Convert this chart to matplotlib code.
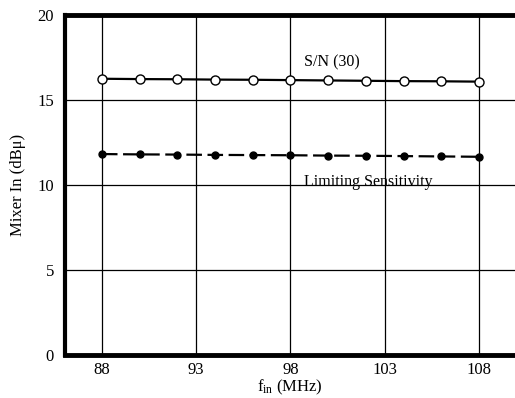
import matplotlib
matplotlib.use("Agg")
import matplotlib.pyplot as plt

freq = [88, 90, 92, 94, 96, 98, 100, 102, 104, 106, 108]
sn30 = [16.25, 16.23, 16.22, 16.2, 16.19, 16.17, 16.15, 16.13, 16.11, 16.1, 16.08]
limiting = [11.82, 11.8, 11.79, 11.77, 11.76, 11.75, 11.73, 11.72, 11.7, 11.68, 11.66]
xticks = [88, 93, 98, 103, 108]
yticks = [0, 5, 10, 15, 20]

plt.rcParams['font.family'] = ['Liberation Serif', 'DejaVu Serif']
plt.rcParams['mathtext.fontset'] = 'custom'
plt.rcParams['mathtext.rm'] = 'Liberation Serif'
plt.rcParams['mathtext.it'] = 'Liberation Serif:italic'

fig = plt.figure(figsize=(5.15, 3.98), dpi=100)
ax = fig.add_axes([65/515, 43/398, 450/515, 340/398])

ax.plot(freq, sn30, '-', color='black', lw=1.6, marker='o', ms=6.5,
        mfc='white', mec='black', mew=1.0, zorder=3)
ax.plot(freq, limiting, color='black', lw=1.6, ls=(0, (7, 2.5)), marker='o', ms=5,
        mfc='black', mec='black', zorder=3)

ax.set_xlim(86.04, 109.91)
ax.set_ylim(0, 20)
ax.set_xticks(xticks)
ax.set_yticks(yticks)
ax.grid(True, color='black', lw=0.9)
ax.tick_params(length=0, labelsize=12, pad=8)
ax.tick_params(axis='x', pad=5)

ax.spines['left'].set_linewidth(3)
for s in ['top', 'bottom']:
    ax.spines[s].set_linewidth(3.5)
ax.spines['right'].set_visible(False)

ax.text(98.7, 17.2, 'S/N (30)', fontsize=11.5, ha='left', va='center')
ax.text(98.7, 10.2, 'Limiting Sensitivity', fontsize=11.5, ha='left', va='center')

ax.set_ylabel('Mixer In (dBμ)', fontsize=12, labelpad=8)
ax.set_xlabel('f$_{\\rm in}$ (MHz)', fontsize=12, labelpad=0)

fig.savefig('out.png', dpi=100)
